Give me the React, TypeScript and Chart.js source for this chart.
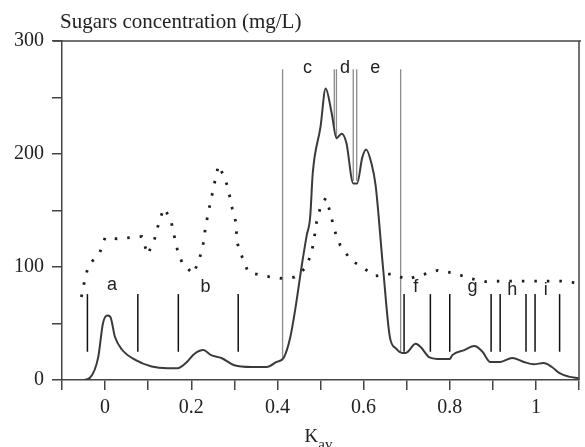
import { useEffect, useRef } from 'react';
import { Chart, registerables } from 'chart.js';

Chart.register(...registerables);

// Sugars concentration curve (solid)
const solidX = [-0.05, -0.035, -0.016, -0.005, 0.005, 0.012, 0.023, 0.039, 0.069, 0.108, 0.145, 0.168, 0.19, 0.207, 0.228, 0.246, 0.27, 0.3, 0.339, 0.375, 0.398, 0.415, 0.43, 0.442, 0.456, 0.468, 0.476, 0.482, 0.5, 0.512, 0.526, 0.537, 0.549, 0.56, 0.576, 0.585, 0.597, 0.606, 0.618, 0.628, 0.645, 0.661, 0.675, 0.69, 0.698, 0.721, 0.733, 0.753, 0.779, 0.8, 0.806, 0.834, 0.857, 0.876, 0.894, 0.917, 0.945, 0.972, 0.995, 1.018, 1.037, 1.055, 1.076, 1.099];
const solidY = [0, 2, 20, 50, 57, 56, 38, 27, 18, 12, 10.5, 10.5, 16, 23, 26.5, 22, 19.5, 13, 11.5, 11.5, 16, 20, 38, 64, 100, 128, 144, 183, 224, 258, 236, 214, 218, 210, 174, 174, 197, 204, 192, 172, 100, 38, 28, 24, 24, 32, 29, 20, 18.5, 18.5, 22, 26.5, 30, 25, 16, 16, 19.5, 16, 14, 15, 11.5, 6, 3, 1.5];

// Second profile (dotted)
const dotX = [-0.055, -0.048, -0.039, -0.012, 0, 0.028, 0.058, 0.085, 0.099, 0.115, 0.124, 0.136, 0.152, 0.159, 0.168, 0.18, 0.205, 0.219, 0.228, 0.233, 0.24, 0.249, 0.256, 0.263, 0.279, 0.288, 0.295, 0.304, 0.306, 0.318, 0.332, 0.369, 0.408, 0.44, 0.465, 0.479, 0.486, 0.491, 0.5, 0.512, 0.523, 0.532, 0.546, 0.571, 0.604, 0.627, 0.666, 0.7, 0.772, 0.811, 0.846, 0.883, 0.917, 0.955, 0.99, 1.025, 1.06, 1.094];
const dotY = [73.5, 87, 101, 113, 126, 125, 126, 127, 111, 125, 138, 152, 143, 130, 115, 102.5, 94, 107, 121, 135, 149, 165, 178, 190, 178, 165, 152, 139, 122, 109, 95.5, 92, 90, 91, 99, 112, 127, 140, 153, 161, 148, 133, 119, 106, 98, 92, 94, 89, 97, 94.5, 90, 87, 87.5, 87.5, 87.5, 87.5, 87.5, 86];

// Tall pooling lines (grey)
const tallX = [0.412, 0.532, 0.537, 0.576, 0.584, 0.686];
const tallBottom = [18, 225, 214, 176, 176, 24];
const tallTop = 275;

// Short fraction markers (black)
const shortX = [-0.041, 0.076, 0.17, 0.309, 0.694, 0.755, 0.8, 0.896, 0.917, 0.977, 0.998, 1.055];
const shortTop = 76;
const shortBottom = 25;

// Peak letters
const peakNames = ['a', 'b', 'c', 'd', 'e', 'f', 'g', 'h', 'i'];
const peakX = [0.016, 0.233, 0.47, 0.557, 0.627, 0.721, 0.853, 0.945, 1.023];
const peakY = [84, 82, 276, 276, 276, 82, 82, 80, 80];

const yLabelled = [0, 100, 200, 300];
const xLabelled = [0, 0.2, 0.4, 0.6, 0.8, 1];

const SERIF = '"Liberation Serif", "Times New Roman", serif';
const SANS = '"Liberation Sans", Arial, sans-serif';

export default function App() {
  const ref = useRef<HTMLCanvasElement>(null);

  useEffect(() => {
    document.body.style.margin = '0';
    const canvas = ref.current;
    if (!canvas) return;

    const datasets: any[] = [];
    datasets.push({
      data: solidX.map((x, i) => ({ x, y: solidY[i] })),
      borderColor: '#3a3a3a',
      borderWidth: 2,
      pointRadius: 0,
      cubicInterpolationMode: 'monotone',
      fill: false,
    });
    datasets.push({
      data: dotX.map((x, i) => ({ x, y: dotY[i] })),
      borderColor: '#1e1e1e',
      borderWidth: 2.8,
      borderDash: [2.5, 10],
      pointRadius: 0,
      tension: 0,
      fill: false,
    });
    tallX.forEach((x, i) => {
      datasets.push({
        data: [{ x, y: tallBottom[i] }, { x, y: tallTop }],
        borderColor: '#8c8c8c',
        borderWidth: 1.3,
        pointRadius: 0,
      });
    });
    shortX.forEach((x) => {
      datasets.push({
        data: [{ x, y: shortBottom }, { x, y: shortTop }],
        borderColor: '#111',
        borderWidth: 1.5,
        pointRadius: 0,
      });
    });

    const decor = {
      id: 'decor',
      afterDraw(chart: any) {
        const { ctx, chartArea, scales } = chart;
        const xs = scales.x;
        const ys = scales.y;
        ctx.save();
        // frame top and right
        ctx.strokeStyle = '#444';
        ctx.lineWidth = 1.5;
        ctx.beginPath();
        ctx.moveTo(chartArea.left - 9, chartArea.top);
        ctx.lineTo(chartArea.right + 2, chartArea.top);
        ctx.moveTo(chartArea.right, chartArea.top);
        ctx.lineTo(chartArea.right, chartArea.bottom);
        ctx.stroke();
        // y title
        ctx.fillStyle = '#222';
        ctx.font = '21px ' + SERIF;
        ctx.textAlign = 'left';
        ctx.textBaseline = 'alphabetic';
        ctx.fillText('Sugars concentration (mg/L)', 60, 28);
        // peak letters
        ctx.font = '18px ' + SANS;
        ctx.textAlign = 'center';
        ctx.textBaseline = 'middle';
        peakNames.forEach((n, i) => {
          ctx.fillText(n, xs.getPixelForValue(peakX[i]), ys.getPixelForValue(peakY[i]));
        });
        // x title K_av
        const cx = (chartArea.left + chartArea.right) / 2;
        ctx.textAlign = 'left';
        ctx.textBaseline = 'alphabetic';
        ctx.font = '19px ' + SERIF;
        const kw = ctx.measureText('K').width;
        ctx.font = '15px ' + SERIF;
        const aw = ctx.measureText('av').width;
        const start = cx - (kw + aw) / 2 - 2;
        ctx.font = '19px ' + SERIF;
        ctx.fillText('K', start, 442);
        ctx.font = '15px ' + SERIF;
        ctx.fillText('av', start + kw, 449);
        ctx.restore();
      },
    };

    const chart = new Chart(canvas, {
      type: 'line',
      data: { datasets },
      options: {
        animation: false,
        responsive: false,
        maintainAspectRatio: false,
        layout: { padding: { top: 41, right: 2, left: 0, bottom: 0 } },
        plugins: {
          legend: { display: false },
          tooltip: { enabled: false },
          title: { display: false },
        },
        scales: {
          x: {
            type: 'linear',
            min: -0.1,
            max: 1.1,
            afterFit: (s: any) => { s.height = 67; },
            ticks: {
              stepSize: 0.1,
              autoSkip: false,
              maxRotation: 0,
              padding: 6,
              color: '#222',
              font: { family: SERIF, size: 20 },
              callback: (v: any) => {
                const n = Math.round(Number(v) * 10);
                const hit = xLabelled.find((t) => Math.round(t * 10) === n);
                return hit === undefined ? '' : String(hit);
              },
            },
            grid: {
              drawOnChartArea: false,
              drawTicks: true,
              tickLength: 10,
              color: '#444',
              lineWidth: 1.5,
            },
            border: { display: true, color: '#444', width: 1.5 },
          },
          y: {
            type: 'linear',
            min: 0,
            max: 300,
            afterFit: (s: any) => { s.width = 62; },
            ticks: {
              stepSize: 50,
              autoSkip: false,
              padding: 8,
              color: '#222',
              font: { family: SERIF, size: 20 },
              callback: (v: any) => (yLabelled.includes(Number(v)) ? String(v) : ''),
            },
            grid: {
              drawOnChartArea: false,
              drawTicks: true,
              tickLength: 10,
              color: '#444',
              lineWidth: 1.5,
            },
            border: { display: true, color: '#444', width: 1.5 },
          },
        },
      },
      plugins: [decor],
    });

    return () => chart.destroy();
  }, []);

  return (
    <div style={{ width: 585, height: 447, position: 'relative', background: '#fff' }}>
      <canvas ref={ref} width={585} height={447} style={{ display: 'block' }} />
    </div>
  );
}
